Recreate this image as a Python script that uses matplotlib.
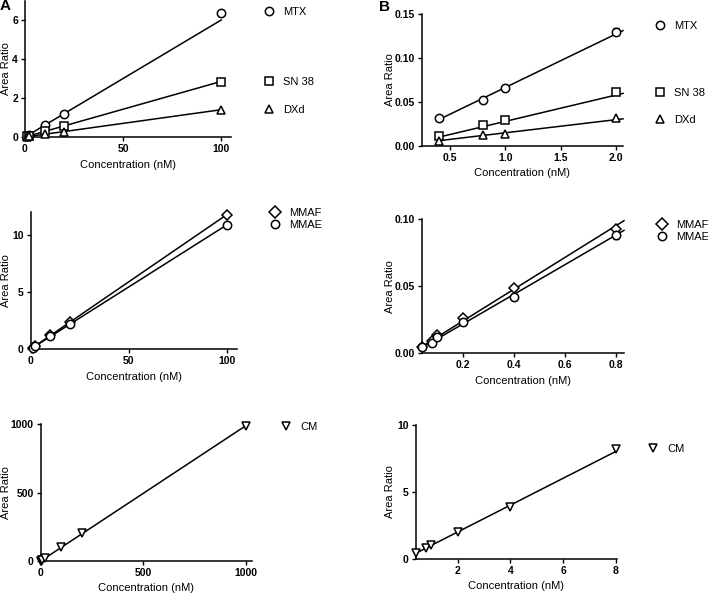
import matplotlib
matplotlib.use("Agg")
import matplotlib.pyplot as plt
from matplotlib.lines import Line2D
from matplotlib.ticker import FormatStrFormatter
import numpy as np

plt.rcParams['font.family'] = ['Liberation Sans', 'DejaVu Sans']

# ---------------- data ----------------
# Panel A top
a1_conc = [1, 2, 10, 20, 100]
a1_mtx = [0.06, 0.12, 0.60, 1.17, 6.34]
a1_sn38 = [0.03, 0.06, 0.29, 0.56, 2.84]
a1_dxd = [0.014, 0.03, 0.14, 0.26, 1.38]
a1_fit = {"MTX": (0.060, 0.0), "SN 38": (0.0285, 0.0), "DXd": (0.014, 0.0)}

# Panel B top
b1_conc = [0.4, 0.8, 1.0, 2.0]
b1_mtx = [0.032, 0.052, 0.066, 0.130]
b1_mtx_err = [0.0, 0.002, 0.0, 0.004]
b1_sn38 = [0.011, 0.024, 0.029, 0.061]
b1_dxd = [0.006, 0.012, 0.014, 0.032]
b1_fit = {"MTX": (0.061, 0.0055), "SN 38": (0.030, -0.002), "DXd": (0.015, 0.0)}

# Panel A middle
a2_conc = [1, 2, 10, 20, 100]
a2_mmaf = [0.12, 0.24, 1.2, 2.4, 11.8]
a2_mmae = [0.11, 0.22, 1.1, 2.2, 10.9]
a2_fit = {"MMAF": (0.118, 0.0), "MMAE": (0.109, 0.0)}

# Panel B middle
b2_conc = [0.04, 0.08, 0.1, 0.2, 0.4, 0.8]
b2_mmaf = [0.005, 0.009, 0.014, 0.026, 0.049, 0.093]
b2_mmae = [0.005, 0.008, 0.012, 0.023, 0.042, 0.088]
b2_mmae_err = [0.0, 0.0, 0.0, 0.0, 0.002, 0.003]
b2_fit = {"MMAF": (0.119, 0.0002), "MMAE": (0.111, -0.0004)}

# Panel A bottom
a3_conc = [1, 2, 4, 8, 20, 100, 200, 1000]
a3_cm = [1, 2, 4, 8, 20, 105, 205, 985]
a3_fit = {"CM": (0.99, 0.0)}

# Panel B bottom
b3_conc = [0.4, 0.8, 1.0, 2.0, 4.0, 8.0]
b3_cm = [0.4, 0.8, 1.05, 2.0, 3.85, 8.2]
b3_fit = {"CM": (1.0, 0.0)}

# ---------------- figure ----------------
W, H = 708, 595
fig = plt.figure(figsize=(W / 100, H / 100), dpi=100)

FS = 7.5


def add_axes_px(left, right, top, bottom):
    return fig.add_axes([left / W, 1 - bottom / H, (right - left) / W, (bottom - top) / H])


def style(ax, xlim, ylim, xticks, yticks, xfmt=None, yfmt=None,
          ylab_x=None, xlab_y=None, left=None, right=None, top=None, bottom=None):
    ax.set_xlim(*xlim)
    ax.set_ylim(*ylim)
    for s in ("top", "right"):
        ax.spines[s].set_visible(False)
    for s in ("left", "bottom"):
        ax.spines[s].set_linewidth(1.1)
    ax.set_xticks(xticks)
    ax.set_yticks(yticks)
    if xfmt:
        ax.xaxis.set_major_formatter(FormatStrFormatter(xfmt))
    if yfmt:
        ax.yaxis.set_major_formatter(FormatStrFormatter(yfmt))
    ax.tick_params(direction="out", length=3, width=1.0, labelsize=FS, pad=2)
    for lab in ax.get_xticklabels() + ax.get_yticklabels():
        lab.set_fontweight("bold")
    ax.set_xlabel("Concentration (nM)", fontsize=FS + 0.5)
    ax.set_ylabel("Area Ratio", fontsize=FS + 0.5)
    w = right - left
    h = bottom - top
    ax.yaxis.set_label_coords((ylab_x - left) / w, 0.5)
    ax.xaxis.set_label_coords(0.5, -(xlab_y - bottom) / h)


MK = dict(markersize=6, markerfacecolor="white", markeredgecolor="black",
          markeredgewidth=1.1, linestyle="none", clip_on=False, zorder=3)


def fit_line(ax, fit, x0, x1):
    xs = np.array([x0, x1])
    ax.plot(xs, fit[0] * xs + fit[1], color="black", lw=1.1, zorder=2, clip_on=False)


def legend_entry(marker, label, mx, my):
    # mx,my : marker center in pixels
    fs_px = (FS + 0.5) * 100 / 72
    hl = 1.0
    left_px = mx - hl * fs_px / 2
    h = Line2D([], [], marker=marker, markersize=6, markerfacecolor="white",
               markeredgecolor="black", markeredgewidth=1.1, linestyle="none")
    fig.legend([h], [label], loc="center left",
               bbox_to_anchor=(left_px / W, 1 - my / H), frameon=False,
               fontsize=FS + 0.5, handlelength=hl, handletextpad=0.75,
               borderpad=0, borderaxespad=0)


# ---- A top ----
L, R, T, B = 25, 231, 0.5, 137
ax = add_axes_px(L, R, T, B)
for (name, y, m) in [("MTX", a1_mtx, "o"), ("SN 38", a1_sn38, "s"), ("DXd", a1_dxd, "^")]:
    fit_line(ax, a1_fit[name], 0, max(a1_conc))
    ax.plot(a1_conc, y, marker=m, **MK)
style(ax, (0, 105), (0, 7), [0, 50, 100], [0, 2, 4, 6],
      ylab_x=11, xlab_y=160, left=L, right=R, top=T, bottom=B)
legend_entry("o", "MTX", 269, 12)
legend_entry("s", "SN 38", 269, 82)
legend_entry("^", "DXd", 269, 110)

# ---- B top ----
L, R, T, B = 422, 623, 14, 146
ax = add_axes_px(L, R, T, B)
for (name, y, m) in [("MTX", b1_mtx, "o"), ("SN 38", b1_sn38, "s"), ("DXd", b1_dxd, "^")]:
    fit_line(ax, b1_fit[name], min(b1_conc), 2.06)
    ax.plot(b1_conc, y, marker=m, **MK)
ax.errorbar(b1_conc, b1_mtx, yerr=b1_mtx_err, fmt="none", ecolor="black",
            elinewidth=1.0, capsize=2.5, capthick=1.0, zorder=2.5, clip_on=False)
style(ax, (0.25, 2.06), (0, 0.15), [0.5, 1.0, 1.5, 2.0], [0, 0.05, 0.10, 0.15],
      xfmt="%.1f", yfmt="%.2f",
      ylab_x=395, xlab_y=168, left=L, right=R, top=T, bottom=B)
legend_entry("o", "MTX", 660, 26)
legend_entry("s", "SN 38", 660, 93)
legend_entry("^", "DXd", 660, 120)

# ---- A middle ----
L, R, T, B = 30.7, 236.7, 212.3, 349
ax = add_axes_px(L, R, T, B)
for (name, y, m) in [("MMAF", a2_mmaf, "D"), ("MMAE", a2_mmae, "o")]:
    fit_line(ax, a2_fit[name], 0, max(a2_conc))
    ax.plot(a2_conc, y, marker=m, **(dict(MK, markersize=5.5) if m == "D" else MK))
style(ax, (0, 105), (0, 12), [0, 50, 100], [0, 5, 10],
      ylab_x=11, xlab_y=371.5, left=L, right=R, top=T, bottom=B)
legend_entry("D", "MMAF", 275, 212.7)
legend_entry("o", "MMAE", 275, 225)

# ---- B middle ----
L, R, T, B = 421.7, 624, 219.3, 353.3
ax = add_axes_px(L, R, T, B)
for (name, y, m) in [("MMAF", b2_mmaf, "D"), ("MMAE", b2_mmae, "o")]:
    fit_line(ax, b2_fit[name], min(b2_conc), 0.83)
    ax.plot(b2_conc, y, marker=m, **(dict(MK, markersize=5.5) if m == "D" else MK))
ax.errorbar(b2_conc, b2_mmae, yerr=b2_mmae_err, fmt="none", ecolor="black",
            elinewidth=1.0, capsize=2.5, capthick=1.0, zorder=2.5, clip_on=False)
style(ax, (0.04, 0.83), (0, 0.10), [0.2, 0.4, 0.6, 0.8], [0, 0.05, 0.10],
      xfmt="%.1f", yfmt="%.2f",
      ylab_x=395, xlab_y=376, left=L, right=R, top=T, bottom=B)
legend_entry("D", "MMAF", 662, 225)
legend_entry("o", "MMAE", 662, 237)

# ---- A bottom ----
L, R, T, B = 40.7, 252, 424.3, 561
ax = add_axes_px(L, R, T, B)
fit_line(ax, a3_fit["CM"], 0, max(a3_conc))
ax.plot(a3_conc, a3_cm, marker="v", **MK)
style(ax, (0, 1030), (0, 1000), [0, 500, 1000], [0, 500, 1000],
      ylab_x=11, xlab_y=583, left=L, right=R, top=T, bottom=B)
legend_entry("v", "CM", 286, 427.3)

# ---- B bottom ----
L, R, T, B = 415.7, 616.5, 424.7, 558.7
ax = add_axes_px(L, R, T, B)
fit_line(ax, b3_fit["CM"], min(b3_conc), max(b3_conc))
ax.plot(b3_conc, b3_cm, marker="v", **MK)
style(ax, (0.4, 8.03), (0, 10), [2, 4, 6, 8], [0, 5, 10],
      ylab_x=395, xlab_y=581, left=L, right=R, top=T, bottom=B)
legend_entry("v", "CM", 653, 449)

# panel letters
fig.text(0 / W, 1 - 6 / H, "A", fontsize=11, fontweight="bold", va="center", ha="left")
fig.text(379 / W, 1 - 7 / H, "B", fontsize=11, fontweight="bold", va="center", ha="left")

fig.savefig("out.png", dpi=100)
